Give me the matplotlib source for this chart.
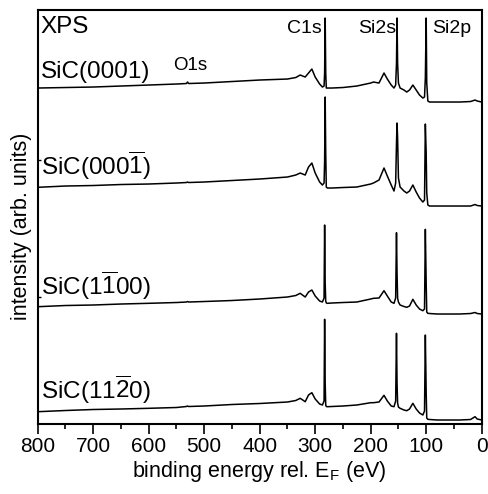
import matplotlib
matplotlib.use("Agg")
import matplotlib.pyplot as plt
from matplotlib.ticker import MultipleLocator

plt.rcParams['font.family'] = ['Liberation Sans', 'DejaVu Sans']
plt.rcParams['mathtext.fontset'] = 'custom'
plt.rcParams['mathtext.rm'] = 'Liberation Sans'
plt.rcParams['mathtext.it'] = 'Liberation Sans:italic'
plt.rcParams['mathtext.bf'] = 'Liberation Sans:bold'
plt.rcParams['mathtext.default'] = 'regular'

# binding energy grid (eV)
energy = [800, 750, 700, 650, 600, 550, 532, 530, 528, 500, 450, 400, 350, 335, 327,
          318, 312, 306, 300, 292, 287, 284, 283, 282, 281, 280, 278, 270, 250, 225,
          200, 195, 185, 176, 170, 163, 158, 155, 153.5, 152.5, 151.5, 150, 147, 140,
          135, 130, 124, 118, 112, 106, 103, 101.5, 100, 99, 97, 94, 80, 60, 40, 20,
          12, 8, 0]

# intensities (arb. units, vertically offset spectra)
sic_0001 = [335, 335.5, 336, 337, 338, 339, 339.5, 341, 339.5, 340, 341.5, 343, 344, 345.5, 348,
            346, 350, 354, 346, 339, 336, 337, 350, 405, 350, 335, 335, 335, 335.5, 337,
            340, 341, 340, 350, 344, 338, 335, 338, 360, 405, 360, 340, 335, 333,
            331, 333, 338, 333, 328, 325, 326, 345, 405, 340, 322, 321, 321, 321, 321, 321.5,
            323, 322, 321]
sic_000m1 = [235.7, 237, 237.5, 238.5, 239, 240, 240.5, 241, 240.5, 241, 242.5, 244, 246, 248, 250,
             248, 256, 260, 250, 241, 238, 240, 262, 326, 270, 236, 235, 235, 235.5, 236,
             239, 240, 243, 255, 247, 238, 232, 240, 280, 300, 285, 245, 236, 232,
             230, 232, 238, 231, 225, 221, 223, 299, 270, 230, 218, 217, 217, 217, 217, 217,
             218.5, 217.5, 217]
sic_1m100 = [116.3, 117.5, 118, 119, 119.7, 120.5, 121, 121.5, 121, 121.5, 122.5, 124, 126, 127.5, 129.7,
             126, 131, 133, 127, 122, 121, 125, 198, 140, 122, 120, 119.7, 120, 120.5, 121,
             124, 124.7, 125, 132.3, 127, 121, 119.7, 125, 190.3, 150, 125, 121, 118, 116.5,
             115.7, 117, 123.7, 118, 114, 112.3, 114, 193.7, 140, 111, 109.7, 109.5, 109, 109, 109, 109.5,
             110.5, 109.5, 109]
sic_11m20 = [11.3, 12.5, 13.5, 14, 14.7, 15.5, 16.5, 17, 16.5, 17, 18.5, 19.5, 21, 22.5, 24.7,
             21.3, 28, 30.3, 24, 19, 18, 22, 103.7, 40, 18, 16.5, 16.3, 16.5, 17, 18,
             20.3, 20.3, 21, 27.7, 22, 17, 16.3, 22, 89.7, 40, 20, 16, 14.7, 13,
             12.3, 14, 19.7, 14, 10, 8, 12, 88, 30, 5, 3.7, 3.5, 3, 3, 3, 3.5,
             6.3, 4, 3]

spectra = [sic_0001, sic_000m1, sic_1m100, sic_11m20]
sample_labels = ['SiC(0001)', r'SiC(000$\overline{1}$)', r'SiC(1$\overline{1}$00)', r'SiC(11$\overline{2}$0)']
label_y = [345, 248, 128, 24]
peak_labels = ['C1s', 'Si2s', 'Si2p']
peak_label_x = [351.4, 223.4, 90]
xticks = [800, 700, 600, 500, 400, 300, 200, 100, 0]

fig = plt.figure(figsize=(4.88, 4.94), dpi=100)
ax = fig.add_axes([0.07725, 0.1427, 0.9098, 0.837])

for s in spectra:
    ax.plot(energy, s, color='black', lw=1.1)

ax.set_xlim(800, 0)
ax.set_ylim(-0.5, 413)
ax.set_xticks(xticks)
ax.set_xticklabels([str(t) for t in xticks])
ax.xaxis.set_minor_locator(MultipleLocator(50))
ax.tick_params(axis='x', which='major', direction='out', length=7, width=1.2, labelsize=15, pad=3)
ax.tick_params(axis='x', which='minor', direction='out', length=3.5, width=1.2)
ax.set_yticks([263, 126.3])
ax.set_yticklabels([])
ax.tick_params(axis='y', which='major', direction='in', length=2.5, width=1.0)
for sp in ax.spines.values():
    sp.set_linewidth(1.5)

ax.set_xlabel(r'binding energy rel. E$_{F}$ (eV)', fontsize=15.5)
ax.xaxis.set_label_coords(0.5, -0.085)
ax.set_ylabel('intensity (arb. units)', fontsize=15.5)
ax.yaxis.set_label_coords(-0.012, 0.478)

ax.text(795.9, 389.7, 'XPS', fontsize=17.5, ha='left', va='baseline')
for lab, y in zip(sample_labels, label_y):
    ax.text(794, y, lab, fontsize=17.5, ha='left', va='baseline')
ax.text(556, 353, 'O1s', fontsize=13.5, ha='left', va='baseline')
for lab, x in zip(peak_labels, peak_label_x):
    ax.text(x, 389.7, lab, fontsize=14, ha='left', va='baseline')

fig.savefig('out.png', dpi=100)
